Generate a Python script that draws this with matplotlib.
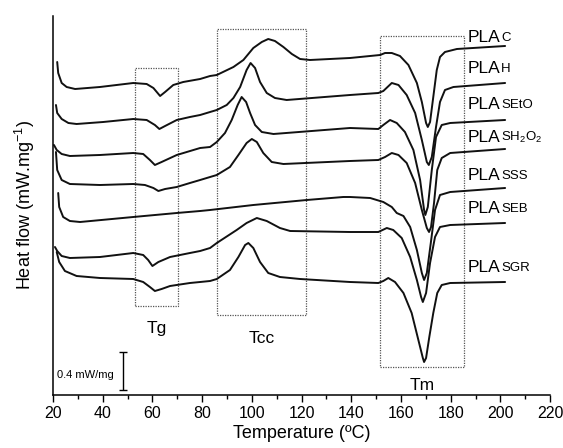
import matplotlib
matplotlib.use('Agg')
import matplotlib.pyplot as plt
from matplotlib.patches import Rectangle
from matplotlib.ticker import MultipleLocator

plt.rcParams['font.family'] = ['Liberation Sans', 'DejaVu Sans']
plt.rcParams['mathtext.fontset'] = 'custom'
plt.rcParams['mathtext.rm'] = 'Liberation Sans'
plt.rcParams['mathtext.it'] = 'Liberation Sans'

# heat flow in arbitrary units, shifted per curve (39 units = 0.4 mW/mg)
T_C = [21.7, 22.1, 23.5, 25.5, 28.9, 38.9, 52.3, 57.7, 60.4, 63.1, 65.1, 68.4, 72.4, 79.2, 83.2, 85.9,
       92.6, 96.6, 100.6, 104.0, 106.6, 109.3, 112.7, 116.1, 119.4, 123.4, 139.5, 151.6, 153.6, 156.3,
       159.6, 163.0, 166.4, 168.4, 170.1, 170.8, 171.7, 173.0, 174.4, 175.7, 177.7, 182.5, 201.9]
HF_C = [333, 322, 312, 308, 306, 308, 312, 311, 307, 299, 303, 310, 313, 316, 319, 320,
        328, 335, 347, 353, 356, 354, 348, 341, 336, 335, 337, 340, 342, 342,
        339, 330, 312, 293, 272, 268, 273, 298, 325, 338, 343, 346, 349]

T_H = [21.2, 21.7, 23.5, 26.2, 29.5, 40.2, 52.3, 57.7, 61.0, 62.8, 65.1, 69.8, 75.1, 79.2, 83.2, 85.9,
       89.9, 92.6, 95.3, 97.9, 99.5, 101.3, 103.3, 106.0, 109.3, 114.0, 139.5, 150.9, 152.9, 156.3,
       159.0, 162.3, 165.7, 168.4, 170.4, 171.2, 172.4, 174.1, 175.7, 177.7, 181.1, 201.9]
HF_H = [290, 282, 276, 272, 271, 273, 276, 275, 270, 266, 269, 275, 278, 280, 283, 285,
        290, 297, 308, 325, 332, 327, 313, 302, 297, 295, 300, 302, 304, 312,
        310, 300, 282, 255, 233, 230, 238, 268, 293, 305, 308, 312]

T_SETO = [20.4, 21.5, 23.5, 26.8, 38.9, 52.3, 56.3, 59.0, 61.0, 63.7, 69.8, 79.2, 83.2, 85.9, 89.2,
          91.9, 94.3, 95.9, 97.7, 99.3, 101.3, 104.0, 108.7, 139.5, 150.9, 152.9, 155.6, 158.3, 161.6,
          165.0, 167.7, 169.3, 169.8, 170.8, 172.4, 174.1, 176.4, 179.8, 201.9]
HF_SETO = [250, 245, 241, 239, 240, 242, 241, 235, 230, 233, 240, 247, 248, 253, 262,
           275, 290, 298, 293, 282, 270, 263, 261, 267, 266, 270, 275, 272, 263,
           245, 215, 185, 180, 188, 225, 258, 270, 272, 275]

T_SH2O2 = [21.2, 21.7, 23.5, 26.8, 38.9, 52.3, 57.0, 60.4, 62.4, 65.1, 69.8, 75.1, 79.2, 83.2, 85.9,
           91.2, 94.6, 97.9, 100.0, 102.0, 104.6, 108.0, 112.7, 139.5, 150.9, 153.6, 156.3, 159.0, 162.3,
           165.7, 168.4, 170.4, 171.3, 172.1, 173.3, 174.6, 176.4, 179.8, 201.9]
HF_SH2O2 = [243, 225, 215, 211, 210, 211, 210, 207, 204, 206, 208, 212, 215, 218, 220,
            228, 240, 252, 256, 253, 242, 233, 231, 234, 235, 238, 242, 240, 232,
            212, 185, 167, 163, 168, 192, 225, 237, 242, 246]

T_SSS = [22.1, 22.5, 24.1, 26.8, 30.9, 52.3, 69.8, 79.2, 83.2, 100.6, 122.1, 136.8, 139.5, 147.6,
         152.9, 156.3, 158.3, 161.0, 163.7, 166.4, 168.4, 169.3, 170.4, 172.0, 173.7, 175.7, 179.8, 201.9]
HF_SSS = [202, 188, 178, 174, 173, 178, 182, 184, 185, 190, 195, 198, 198, 197,
          193, 188, 182, 179, 168, 145, 122, 115, 122, 152, 185, 200, 203, 207]

T_SEB = [20.8, 21.7, 23.5, 26.8, 38.9, 52.3, 56.3, 58.3, 60.0, 62.4, 67.1, 75.1, 79.2, 83.2, 85.9,
         93.9, 97.9, 102.0, 106.0, 111.3, 115.4, 139.5, 150.9, 154.3, 156.9, 160.3, 163.7, 166.4,
         168.1, 168.8, 170.1, 171.7, 173.7, 175.7, 179.8, 201.9]
HF_SEB = [148, 144, 139, 137, 138, 142, 140, 135, 129, 133, 138, 142, 144, 147, 152,
          165, 172, 177, 174, 167, 164, 163, 163, 167, 165, 157, 138, 115,
          98, 93, 102, 132, 158, 168, 170, 172]

T_SGR = [21.5, 22.5, 24.8, 29.5, 38.9, 52.3, 56.3, 59.0, 61.0, 63.7, 67.1, 75.1, 79.2, 83.2, 85.9,
         91.2, 94.6, 97.3, 98.6, 100.6, 103.3, 106.6, 111.3, 119.4, 139.5, 150.9, 152.9, 154.9, 157.6,
         161.0, 164.3, 167.0, 168.8, 169.3, 170.1, 171.4, 173.0, 174.6, 176.4, 179.8, 201.9]
HF_SGR = [143, 133, 124, 119, 117, 116, 113, 108, 104, 106, 109, 112, 113, 114, 116,
          125, 138, 150, 152, 147, 133, 122, 118, 116, 113, 112, 114, 117, 113,
          102, 82, 55, 37, 33, 37, 58, 82, 102, 110, 112, 113]

curves = [(T_C, HF_C), (T_H, HF_H), (T_SETO, HF_SETO), (T_SH2O2, HF_SH2O2),
          (T_SSS, HF_SSS), (T_SEB, HF_SEB), (T_SGR, HF_SGR)]

label_suffix = ['C', 'H', 'SEtO', r'SH$_2$O$_2$', 'SSS', 'SEB', 'SGR']
label_y = [353, 322, 286, 253, 215, 182, 123]

# dotted boxes: (x0, x1, y0, y1, label, label_y)
boxes = [(53.0, 70.3, 89, 327, 'Tg', 62),
         (85.8, 121.8, 80, 366, 'Tcc', 52),
         (151.6, 185.4, 28, 359, 'Tm', 5)]

fig = plt.figure(figsize=(5.63, 4.48), dpi=100)
ax = fig.add_axes([0.0941, 0.1183, 0.883, 0.846])

for t, hf in curves:
    ax.plot(t, hf, color='#111111', lw=1.4, solid_joinstyle='round', solid_capstyle='round')

for x0, x1, y0, y1, name, ly in boxes:
    ax.add_patch(Rectangle((x0, y0), x1 - x0, y1 - y0, fill=False, ec='#555555',
                           lw=0.9, ls=(0, (1, 1))))
    ax.text((x0 + x1) / 2, ly, name, ha='center', va='baseline', fontsize=12.5)

for suf, ly in zip(label_suffix, label_y):
    t = ax.text(187.0, ly, 'PLA', fontsize=12.5, ha='left', va='baseline')
    ax.annotate(suf, xy=(1, 0), xycoords=t, xytext=(0.3, 2.6), textcoords='offset points',
                fontsize=9.5, ha='left', va='baseline')

# scale bar
ax.errorbar(48, 24, yerr=19, color='k', lw=1, capsize=3, capthick=1)
ax.text(21.7, 20, '0.4 mW/mg', fontsize=8, ha='left', va='center')

ax.set_xlim(20, 220)
ax.set_ylim(0, 379)
ax.spines['top'].set_visible(False)
ax.spines['right'].set_visible(False)
ax.spines['left'].set_linewidth(1.1)
ax.spines['bottom'].set_linewidth(1.1)
ax.set_yticks([])
ax.xaxis.set_major_locator(MultipleLocator(20))
ax.xaxis.set_minor_locator(MultipleLocator(10))
ax.tick_params(axis='x', which='major', direction='out', length=5, width=1, labelsize=11.5, pad=3)
ax.tick_params(axis='x', which='minor', direction='out', length=3, width=1)

ax.set_xlabel('Temperature (ºC)', fontsize=13, labelpad=3)
ax.set_ylabel(r'Heat flow (mW.mg$^{-1}$)', fontsize=13)
ax.yaxis.set_label_coords(-0.032, 0.5)

fig.savefig('out.png', dpi=100)
